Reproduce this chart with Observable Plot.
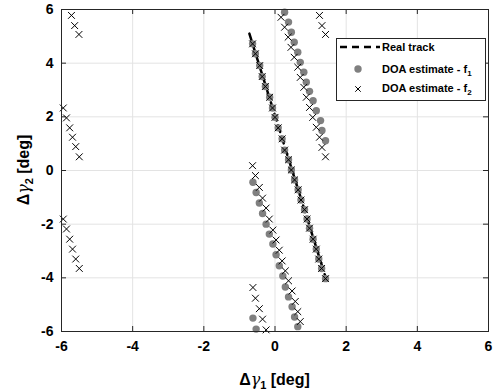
<!DOCTYPE html>
<html><head><meta charset="utf-8">
<script src="https://cdn.jsdelivr.net/npm/d3@7"></script>
<script src="https://cdn.jsdelivr.net/npm/@observablehq/plot@0.6"></script>
<style>
html,body{margin:0;padding:0;background:#fff;}
</style>
</head><body><div id="chart"></div>
<script>
const xTicks = [-6,-4,-2,0,2,4,6];
const yTicks = [-6,-4,-2,0,2,4,6];

// Real track (dashed line)
const trackX = [-0.72, 1.45];
const trackY = [5.1, -4.1];

// DOA estimate - f1 (gray circles)
const f1X = [
  -0.63,-0.55,-0.43,-0.36,-0.27,-0.15,-0.07,0.00,0.09,0.20,0.27,0.38,0.46,0.55,0.65,0.73,0.83,0.90,0.97,1.07,1.16,1.23,1.31,1.42,
  0.27,0.38,0.46,0.54,0.64,0.71,0.81,0.88,0.97,1.07,1.16,1.28,1.32,1.42,
  -0.62,-0.53,-0.44,-0.35,-0.25,-0.16,-0.06,0.03,0.12,0.22,0.29,0.38,0.48,0.55,0.64,
  -0.62,-0.53
];
const f1Y = [
  4.72,4.35,3.91,3.50,3.13,2.73,2.33,1.98,1.59,1.18,0.76,0.40,0.02,-0.35,-0.72,-1.10,-1.46,-1.81,-2.15,-2.56,-2.93,-3.30,-3.65,-4.03,
  5.90,5.53,5.15,4.78,4.41,4.03,3.66,3.29,2.95,2.60,2.23,1.86,1.49,1.11,
  -0.44,-0.82,-1.21,-1.60,-2.00,-2.37,-2.74,-3.14,-3.55,-3.93,-4.34,-4.71,-5.08,-5.46,-5.82,
  -5.50,-5.91
];

// DOA estimate - f2 (black crosses)
const f2X = [
  -0.63,-0.55,-0.43,-0.36,-0.27,-0.15,-0.07,0.00,0.09,0.20,0.27,0.38,0.46,0.55,0.65,0.73,0.83,0.90,0.97,1.07,1.16,1.23,1.31,1.42,
  0.17,0.27,0.37,0.45,0.54,0.64,0.71,0.81,0.88,0.97,1.06,1.16,1.25,1.32,1.42,
  1.25,1.32,1.42,
  -0.63,-0.55,-0.44,-0.35,-0.25,-0.16,-0.06,0.03,0.12,0.20,0.29,0.38,0.48,0.57,0.64,0.71,
  -0.62,-0.55,-0.44,-0.35,-0.25,
  -5.72,-5.63,-5.51,
  -5.95,-5.86,-5.77,-5.69,-5.60,-5.50,
  -5.95,-5.86,-5.77,-5.69,-5.60,-5.50
];
const f2Y = [
  4.72,4.35,3.91,3.50,3.13,2.73,2.33,1.98,1.59,1.18,0.76,0.40,0.02,-0.35,-0.72,-1.10,-1.46,-1.81,-2.15,-2.56,-2.93,-3.30,-3.65,-4.03,
  5.71,5.34,4.97,4.59,4.22,3.85,3.47,3.10,2.73,2.35,1.98,1.61,1.24,0.86,0.51,
  5.78,5.40,5.07,
  0.18,-0.19,-0.63,-1.03,-1.40,-1.81,-2.22,-2.59,-2.97,-3.37,-3.74,-4.11,-4.49,-4.88,-5.26,-5.63,
  -4.36,-4.76,-5.15,-5.54,-5.94,
  5.78,5.40,5.07,
  2.33,1.96,1.59,1.24,0.89,0.51,
  -1.81,-2.18,-2.56,-2.93,-3.30,-3.65
];

const track = trackX.map((x,i)=>({x, y: trackY[i]}));
const f1 = f1X.map((x,i)=>({x, y: f1Y[i]}));
const f2 = f2X.map((x,i)=>({x, y: f2Y[i]}));

const W = 494, H = 391, mL = 61, mR = 6, mT = 9, mB = 60;
const pw = W - mL - mR, ph = H - mT - mB;
const tk = 5;

const svg = Plot.plot({
  width: W, height: H,
  marginLeft: mL, marginRight: mR, marginTop: mT, marginBottom: mB,
  style: {fontFamily: "'Liberation Sans', Arial, sans-serif", fontSize: "14px", fontWeight: "bold", background: "#fff", color: "#000"},
  x: {domain: [-6, 6], ticks: xTicks, tickSize: 0, tickPadding: 10, tickFormat: d => String(d), label: null},
  y: {domain: [-6, 6], ticks: yTicks, tickSize: 0, tickPadding: 8, tickFormat: d => String(d), label: null},
  marks: [
    Plot.ruleX(xTicks, {x: d => d, stroke: "#e3e3e3", strokeWidth: 1}),
    Plot.ruleY(yTicks, {y: d => d, stroke: "#e3e3e3", strokeWidth: 1}),
    Plot.tickX(xTicks, {x: d => d, insetTop: ph - tk, stroke: "#262626"}),
    Plot.tickX(xTicks, {x: d => d, insetBottom: ph - tk, stroke: "#262626"}),
    Plot.tickY(yTicks, {y: d => d, insetRight: pw - tk, stroke: "#262626"}),
    Plot.tickY(yTicks, {y: d => d, insetLeft: pw - tk, stroke: "#262626"}),
    Plot.line(track, {x: "x", y: "y", stroke: "#000", strokeWidth: 2.5, strokeDasharray: "7,5"}),
    Plot.dot(f1, {x: "x", y: "y", r: 3.7, fill: "#808080", stroke: "none"}),
    Plot.dot(f2, {x: "x", y: "y", r: 3.2, symbol: "times", stroke: "#000", strokeWidth: 1}),
    Plot.frame({stroke: "#262626", strokeWidth: 1})
  ]
});
document.getElementById("chart").appendChild(svg);

const s = d3.select(svg);
const font = "'Liberation Sans', Arial, sans-serif";

// Axis labels
const xl = s.append("text").attr("x", mL + pw/2).attr("y", 385).attr("text-anchor", "middle")
  .attr("font-family", font).attr("font-size", 16).attr("font-weight", "bold").attr("fill", "#000");
xl.append("tspan").text("Δ");
xl.append("tspan").attr("font-family", "'DejaVu Serif', serif").attr("font-style", "italic").attr("font-weight", "normal").text("γ");
xl.append("tspan").attr("font-size", 11).attr("dy", 4).text("1");
xl.append("tspan").attr("dy", -4).text(" [deg]");

const yl = s.append("text").attr("transform", `translate(29,${mT + ph/2}) rotate(-90)`).attr("text-anchor", "middle")
  .attr("font-family", font).attr("font-size", 16).attr("font-weight", "bold").attr("fill", "#000");
yl.append("tspan").text("Δ");
yl.append("tspan").attr("font-family", "'DejaVu Serif', serif").attr("font-style", "italic").attr("font-weight", "normal").text("γ");
yl.append("tspan").attr("font-size", 11).attr("dy", 4).text("2");
yl.append("tspan").attr("dy", -4).text(" [deg]");

// Legend
const lg = s.append("g");
lg.append("rect").attr("x", 336.5).attr("y", 38.5).attr("width", 149).attr("height", 62)
  .attr("fill", "#ffffff").attr("stroke", "#262626").attr("stroke-width", 1);
lg.append("line").attr("x1", 340).attr("x2", 380).attr("y1", 47).attr("y2", 47)
  .attr("stroke", "#000").attr("stroke-width", 2.5).attr("stroke-dasharray", "7,5");
lg.append("circle").attr("cx", 358).attr("cy", 69).attr("r", 3.7).attr("fill", "#808080");
lg.append("path").attr("d", d3.symbol(d3.symbolTimes, 2.6*2.6*Math.PI)()).attr("transform", "translate(358,89)")
  .attr("stroke", "#000").attr("fill", "none");
const items = [["Real track", null, 51], ["DOA estimate - f", "1", 73], ["DOA estimate - f", "2", 92]];
for (const [t, sub, yy] of items) {
  const tx = lg.append("text").attr("x", 382).attr("y", yy).attr("text-anchor", "start").attr("font-family", font)
    .attr("font-size", 11).attr("font-weight", "bold").attr("fill", "#000");
  tx.append("tspan").text(t);
  if (sub) tx.append("tspan").attr("font-size", 8).attr("dy", 3).text(sub);
}
</script>
</body></html>
